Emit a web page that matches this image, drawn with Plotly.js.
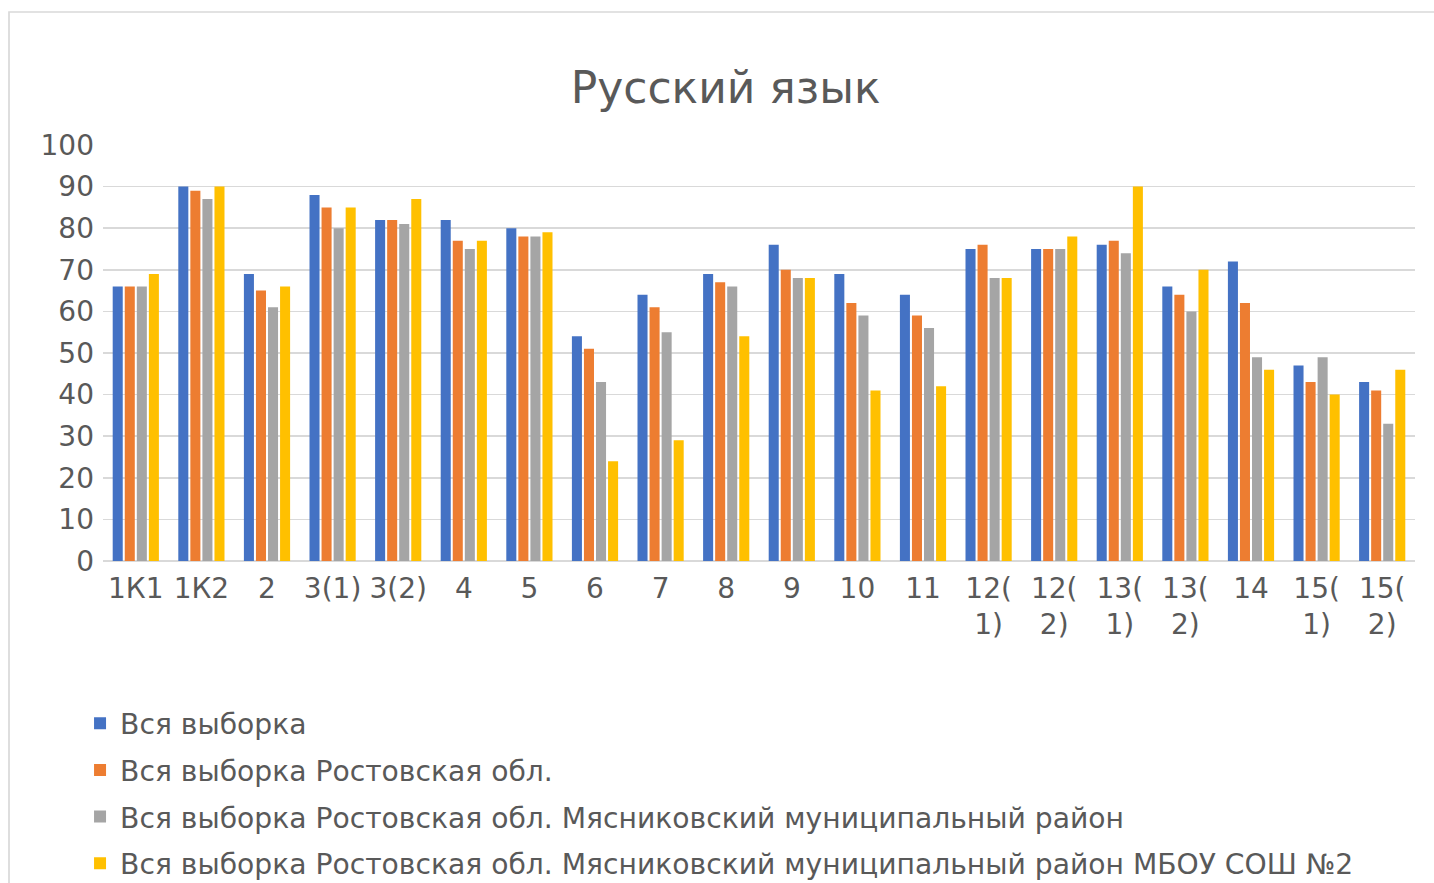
<!DOCTYPE html>
<html>
<head>
<meta charset="utf-8">
<script src="https://cdn.plot.ly/plotly-3.0.1.min.js"></script>
<style>
  html, body { margin: 0; padding: 0; background: #ffffff; overflow: hidden; }
  #chart { width: 1434px; height: 920px; }
</style>
</head>
<body>
<div id="chart"></div>
<script>
// Categories (x-axis tick labels)
const categories = ["1К1", "1К2", "2", "3(1)", "3(2)", "4", "5", "6", "7", "8", "9", "10", "11",
  "12(<br>1)", "12(<br>2)", "13(<br>1)", "13(<br>2)", "14", "15(<br>1)", "15(<br>2)"];

// Series names
const seriesNames = [
  "Вся выборка",
  "Вся выборка Ростовская обл.",
  "Вся выборка Ростовская обл. Мясниковский муниципальный район",
  "Вся выборка Ростовская обл. Мясниковский муниципальный район МБОУ СОШ №2"
];

// Series values
const allSample      = [66, 90, 69, 88, 82, 82, 80, 54, 64, 69, 76, 69, 64, 75, 75, 76, 66, 72, 47, 43];
const rostovRegion   = [66, 89, 65, 85, 82, 77, 78, 51, 61, 67, 70, 62, 59, 76, 75, 77, 64, 62, 43, 41];
const myasnikovDistr = [66, 87, 61, 80, 81, 75, 78, 43, 55, 66, 68, 59, 56, 68, 75, 74, 60, 49, 49, 33];
const school2        = [69, 90, 66, 85, 87, 77, 79, 24, 29, 54, 68, 41, 42, 68, 78, 90, 70, 46, 40, 46];

const seriesValues = [allSample, rostovRegion, myasnikovDistr, school2];
const colors = ["#4472C4", "#ED7D31", "#A5A5A5", "#FFC000"];

const FONT = "DejaVu Sans, sans-serif";
const TEXT = "#595959";

const traces = seriesValues.map((vals, i) => ({
  type: "bar",
  name: seriesNames[i],
  x: categories,
  y: vals,
  marker: { color: colors[i] },
  legendgroup: "g" + i,
  hoverinfo: "x+y+name"
}));

const layout = {
  width: 1434,
  height: 920,
  paper_bgcolor: "#ffffff",
  plot_bgcolor: "#ffffff",
  margin: { l: 103, r: 19, t: 145, b: 359 },
  barmode: "group",
  bargap: 0.265,
  bargroupgap: 0.167,
  title: {
    text: "Русский язык",
    font: { family: FONT, size: 44, color: TEXT },
    xref: "container", x: 0.506,
    yref: "container", y: 1 - 88 / 920, yanchor: "middle"
  },
  font: { family: FONT, color: TEXT },
  xaxis: {
    type: "category",
    tickfont: { family: FONT, size: 28, color: TEXT },
    showgrid: false,
    showline: false,
    zeroline: false,
    ticks: "",
    ticklabelstandoff: 8,
    tickangle: 0,
    automargin: false
  },
  yaxis: {
    range: [0, 100],
    dtick: 10,
    tick0: 0,
    tickfont: { family: FONT, size: 28, color: TEXT },
    showgrid: true,
    gridcolor: "#d9d9d9",
    gridwidth: 1.7,
    zeroline: true,
    zerolinecolor: "#d9d9d9",
    zerolinewidth: 1.7,
    showline: false,
    ticks: "",
    ticklabelstandoff: 8,
    automargin: false
  },
  showlegend: true,
  legend: {
    orientation: "v",
    x: -0.0175,
    xanchor: "left",
    y: -0.3303,
    yanchor: "top",
    font: { family: FONT, size: 28.2, color: TEXT },
    tracegroupgap: 7,
    traceorder: "grouped",
    bgcolor: "rgba(0,0,0,0)"
  },
  shapes: [{
    type: "rect",
    xref: "paper", yref: "paper",
    x0: (9 - 103) / 1312, x1: 1.1,
    y0: -2, y1: (561 - 12) / 416,
    line: { color: "#d9d9d9", width: 1.7 },
    fillcolor: "rgba(0,0,0,0)",
    layer: "below"
  }]
};

Plotly.newPlot("chart", traces, layout, { displayModeBar: false, staticPlot: true });
</script>
</body>
</html>
